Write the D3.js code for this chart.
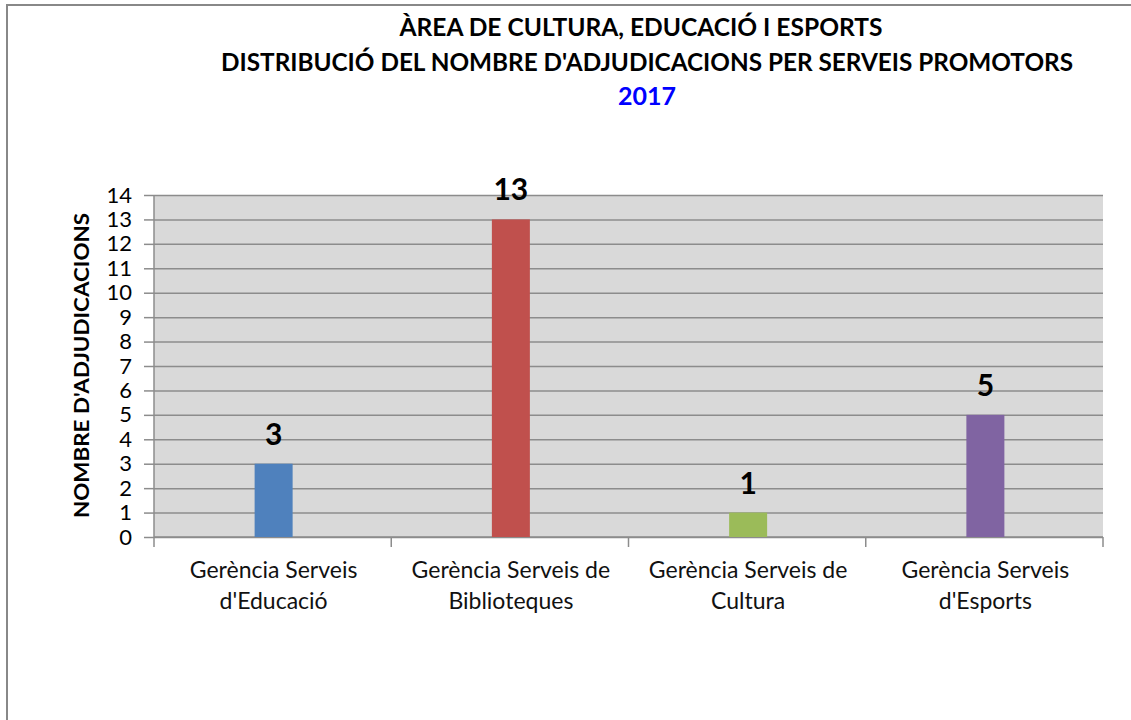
<!DOCTYPE html>
<html>
<head>
<meta charset="utf-8">
<script src="https://cdn.jsdelivr.net/npm/d3@7"></script>
<style>
  body { margin: 0; background: #fff; }
  text { font-family: Lato, "Open Sans", sans-serif; }
</style>
</head>
<body>
<svg id="bar-chart" width="1131" height="720"></svg>
<script>
// chart data
const categories = [
    ['Gerència Serveis', "d'Educació"],
    ['Gerència Serveis de', 'Biblioteques'],
    ['Gerència Serveis de', 'Cultura'],
    ['Gerència Serveis', "d'Esports"]
];
const values = [3, 13, 1, 5];
const barColors = ['#4F81BD', '#C0504D', '#9BBB59', '#8064A2'];
const yTicks = d3.range(0, 15);
const titleLines = ['ÀREA DE CULTURA, EDUCACIÓ I ESPORTS', "DISTRIBUCIÓ DEL NOMBRE D'ADJUDICACIONS PER SERVEIS PROMOTORS"];
const yearLabel = '2017';
const yTitle = "NOMBRE D'ADJUDICACIONS";

const svg = d3.select('#bar-chart');
const margin = { top: 195, right: 28, bottom: 183, left: 154 };
const width = 1131, height = 720;
const chartWidth = width - margin.left - margin.right;
const chartHeight = height - margin.top - margin.bottom;

// outer frame
svg.append('path')
    .attr('d', `M7,720 V5 H1131`)
    .attr('fill', 'none')
    .attr('stroke', '#888')
    .attr('stroke-width', 2);

// titles
svg.append('text')
    .attr('x', 641).attr('y', 36)
    .attr('text-anchor', 'middle')
    .attr('font-size', 24).attr('font-weight', 'bold')
    .attr('textLength', 483).attr('lengthAdjust', 'spacingAndGlyphs')
    .text(titleLines[0]);
svg.append('text')
    .attr('x', 647).attr('y', 71)
    .attr('text-anchor', 'middle')
    .attr('font-size', 24).attr('font-weight', 'bold')
    .attr('textLength', 852).attr('lengthAdjust', 'spacingAndGlyphs')
    .text(titleLines[1]);
svg.append('text')
    .attr('x', 647).attr('y', 105)
    .attr('text-anchor', 'middle')
    .attr('font-size', 25).attr('font-weight', 'bold')
    .attr('fill', '#0000FF')
    .text(yearLabel);

const g = svg.append('g').attr('transform', `translate(${margin.left},${margin.top})`);

const xScale = d3.scaleBand()
    .domain(d3.range(categories.length))
    .range([0, chartWidth])
    .paddingInner(0).paddingOuter(0);

const yScale = d3.scaleLinear()
    .domain([0, 14])
    .range([chartHeight, 0]);

// plot background
g.append('rect')
    .attr('width', chartWidth).attr('height', chartHeight)
    .attr('fill', '#D9D9D9');

// horizontal gridlines
g.append('g')
    .attr('class', 'grid')
    .call(d3.axisLeft(yScale).tickValues(yTicks).tickSize(-chartWidth).tickFormat(''))
    .call(s => s.select('.domain').remove())
    .call(s => s.selectAll('line').attr('stroke', '#8C8C8C').attr('stroke-width', 1.5));

// y axis
g.append('g')
    .attr('class', 'y-axis')
    .call(d3.axisLeft(yScale).tickValues(yTicks).tickSize(10).tickPadding(12))
    .call(s => s.select('.domain').attr('stroke', '#8C8C8C').attr('stroke-width', 1.5).attr('d', `M0,0V${chartHeight}`))
    .call(s => s.selectAll('.tick line').attr('stroke', '#8C8C8C').attr('stroke-width', 1.5))
    .call(s => s.selectAll('.tick text')
        .attr('font-family', 'Lato, sans-serif')
        .attr('font-size', 22).attr('fill', '#000'));

// x axis (category boundary ticks)
const xAxis = g.append('g')
    .attr('transform', `translate(0,${chartHeight})`);
xAxis.append('line')
    .attr('x1', 0).attr('x2', chartWidth)
    .attr('stroke', '#8C8C8C').attr('stroke-width', 1.5);
xAxis.selectAll('.bound')
    .data(d3.range(categories.length + 1))
    .join('line')
    .attr('x1', i => i * xScale.step()).attr('x2', i => i * xScale.step())
    .attr('y1', 0).attr('y2', 10)
    .attr('stroke', '#8C8C8C').attr('stroke-width', 1.5);

// bars
const barWidth = 38;
g.selectAll('.bar')
    .data(values)
    .join('rect')
    .attr('class', 'bar')
    .attr('x', (d, i) => xScale(i) + xScale.bandwidth() / 2 - barWidth / 2 + 1)
    .attr('y', d => yScale(d))
    .attr('width', barWidth)
    .attr('height', d => chartHeight - yScale(d))
    .attr('fill', (d, i) => barColors[i]);

// value labels
g.selectAll('.value')
    .data(values)
    .join('text')
    .attr('x', (d, i) => xScale(i) + xScale.bandwidth() / 2 + 1)
    .attr('y', d => yScale(d) - 19)
    .attr('text-anchor', 'middle')
    .attr('font-size', 30).attr('font-weight', 'bold')
    .text(d => d);

// category labels
const catLabels = g.selectAll('.cat')
    .data(categories)
    .join('text')
    .attr('text-anchor', 'middle')
    .attr('font-size', 23)
    .attr('fill', '#111');
catLabels.selectAll('tspan')
    .data((d, i) => d.map(t => ({ t, i })))
    .join('tspan')
    .attr('x', d => xScale(d.i) + xScale.bandwidth() / 2 + 1)
    .attr('y', (d, j) => chartHeight + 41 + j * 31)
    .text(d => d.t);

// y axis title
svg.append('text')
    .attr('transform', `translate(89,${margin.top + chartHeight / 2 - 0.5}) rotate(-90)`)
    .attr('text-anchor', 'middle')
    .attr('font-size', 21).attr('font-weight', 'bold')
    .attr('textLength', 305).attr('lengthAdjust', 'spacingAndGlyphs')
    .text(yTitle);
</script>
</body>
</html>
